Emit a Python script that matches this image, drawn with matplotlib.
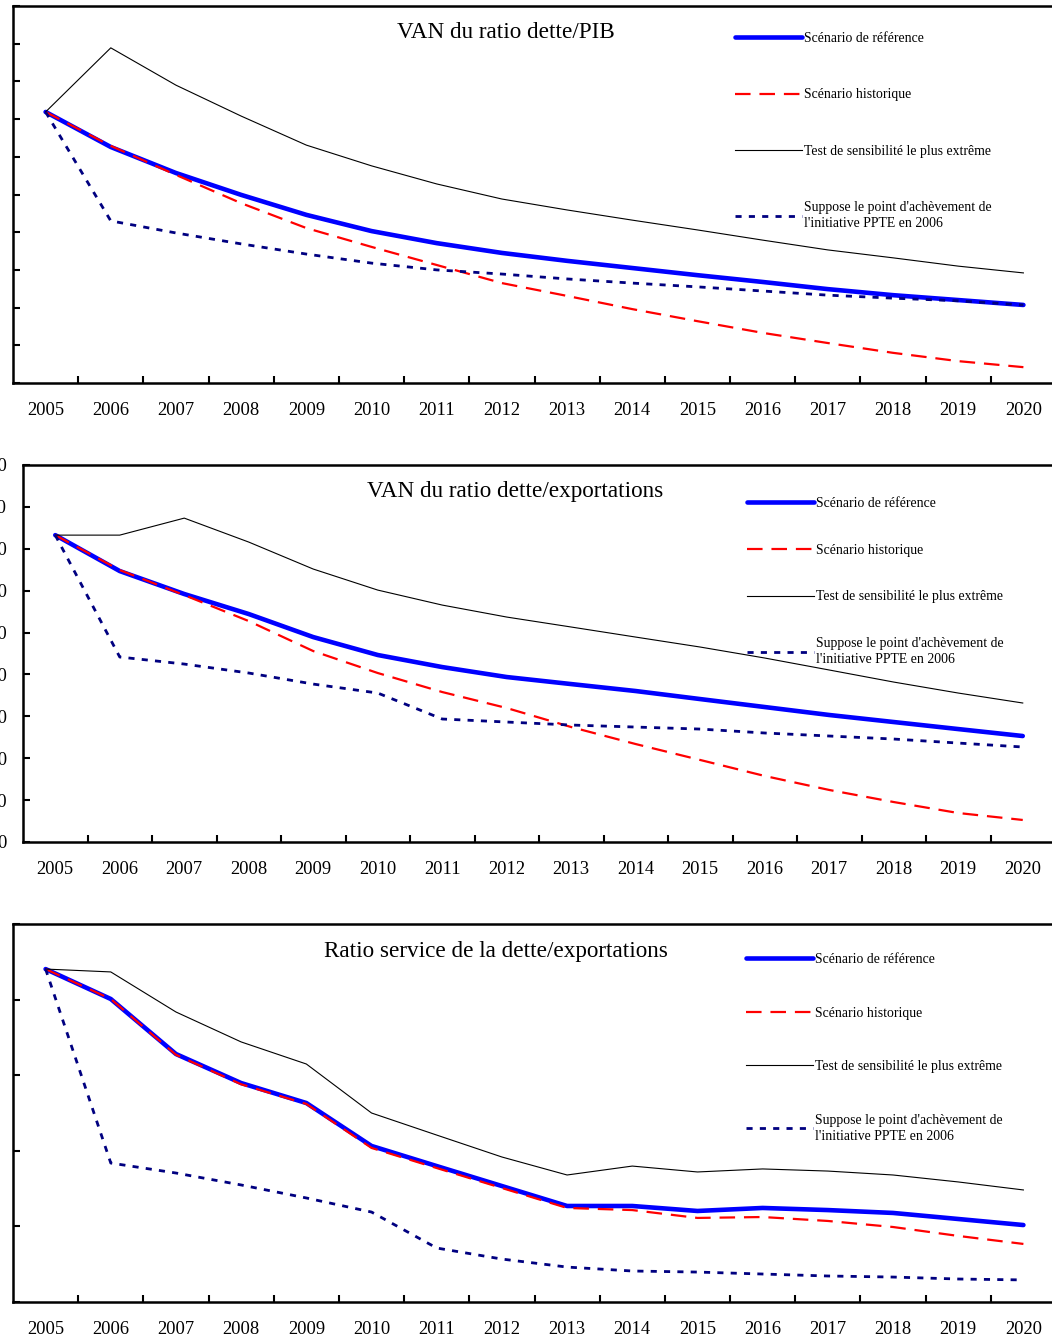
import numpy as np
import matplotlib
matplotlib.use('Agg')
import matplotlib.pyplot as plt

plt.rcParams['font.family'] = ['Liberation Serif', 'DejaVu Serif']

years = [str(y) for y in range(2005, 2021)]

LABELS = ['Scénario de référence',
          'Scénario historique',
          'Test de sensibilité le plus extrême',
          "Suppose le point d'achèvement de\nl'initiative PPTE en 2006"]

# VAN du ratio dette/PIB
pib_base = [71.9, 62.6, 55.7, 49.9, 44.6, 40.3, 37.1, 34.5, 32.4, 30.5, 28.6, 26.8, 24.9, 23.3, 22.0, 20.7]
pib_hist = [71.9, 62.9, 55.2, 47.7, 41.1, 36.1, 31.3, 26.5, 23.1, 19.6, 16.4, 13.3, 10.6, 8.0, 5.8, 4.2]
pib_test = [71.9, 88.9, 79.0, 70.8, 63.1, 57.6, 52.8, 48.8, 45.9, 43.2, 40.6, 37.9, 35.3, 33.2, 31.0, 29.2]
pib_ppte = [71.9, 43.0, 39.8, 36.9, 34.2, 31.8, 30.0, 28.9, 27.6, 26.5, 25.5, 24.4, 23.3, 22.5, 21.8, 20.7]

# VAN du ratio dette/exportations
exp_base = [366.3, 323.4, 296.0, 272.1, 244.6, 223.2, 208.8, 196.9, 188.5, 180.2, 170.6, 161.1, 151.6, 143.2, 134.8, 126.5]
exp_hist = [366.3, 324.6, 294.7, 263.7, 227.9, 201.7, 179.0, 159.9, 137.2, 116.9, 97.9, 78.8, 62.1, 47.7, 34.6, 26.3]
exp_test = [366.3, 366.3, 386.6, 358.0, 325.8, 300.7, 282.8, 268.5, 256.6, 244.6, 232.7, 219.6, 205.3, 190.9, 177.8, 165.9]
exp_ppte = [366.3, 220.8, 212.4, 201.7, 188.5, 177.8, 146.8, 143.2, 139.6, 137.2, 134.8, 130.1, 126.5, 122.9, 118.1, 113.4]

# Ratio service de la dette/exportations
srv_base = [22.02, 20.04, 16.40, 14.48, 13.16, 10.32, 8.99, 7.67, 6.35, 6.35, 6.02, 6.22, 6.08, 5.89, 5.49, 5.09]
srv_hist = [22.02, 20.04, 16.35, 14.40, 13.10, 10.19, 8.86, 7.54, 6.22, 6.08, 5.56, 5.62, 5.36, 4.96, 4.37, 3.84]
srv_test = [22.02, 21.83, 19.18, 17.20, 15.74, 12.50, 11.04, 9.59, 8.40, 8.99, 8.60, 8.80, 8.66, 8.40, 7.94, 7.41]
srv_ppte = [22.02, 9.19, 8.53, 7.74, 6.88, 5.95, 3.57, 2.84, 2.31, 2.05, 1.98, 1.85, 1.72, 1.65, 1.52, 1.46]

W, H = 1052, 1341
fig = plt.figure(figsize=(W / 100, H / 100), dpi=100)

def px(x0, y0, x1, y1):
  # pixel box (left, top, right, bottom) -> figure fraction rect
  return [x0 / W, 1 - y1 / H, (x1 - x0) / W, (y1 - y0) / H]

def panel(rect, series, ymax, ystep, title, title_xy, leg_xy, spacing, ylabels=False):
  ax = fig.add_axes(rect)
  x = np.arange(len(years))
  base, hist, test, ppte = series
  ax.plot(x, base, color='#0000FF', lw=3.3, solid_capstyle='round', label=LABELS[0])
  ax.plot(x, hist, color='#FF0000', lw=1.6, dashes=(7, 4), label=LABELS[1])
  ax.plot(x, test, color='black', lw=0.8, label=LABELS[2])
  ax.plot(x, ppte, color='#000080', lw=2.0, dashes=(2.2, 2.6), label=LABELS[3])

  ax.set_xlim(-0.5, len(years) - 0.5)
  ax.set_ylim(0, ymax)
  ax.set_xticks(x)
  ax.set_xticklabels(years)
  ax.set_xticks(np.arange(0.5, len(years) - 1, 1.0), minor=True)
  ax.set_yticks(np.arange(0, ymax + ystep / 2, ystep))
  ax.set_yticklabels([str(int(v)) for v in np.arange(0, ymax + ystep / 2, ystep)])
  ax.tick_params(axis='x', which='major', length=0, pad=14, labelsize=13.3)
  ax.tick_params(axis='x', which='minor', direction='in', length=5, width=1.5)
  # y labels sit mostly past the left edge of the page, as in the source
  ax.tick_params(axis='y', direction='in', length=5, width=1.5, pad=11.5,
                 labelsize=13.3, labelleft=ylabels)
  for s in ['left', 'top', 'bottom']:
    ax.spines[s].set_linewidth(1.8)
  ax.spines['right'].set_visible(False)

  fig.text(title_xy[0] / W, 1 - title_xy[1] / H, title, fontsize=16.7,
           ha='center', va='center')
  leg = ax.legend(loc='upper left', bbox_to_anchor=(leg_xy[0] / W, 1 - leg_xy[1] / H),
                  bbox_transform=fig.transFigure, frameon=False, fontsize=9.9,
                  handlelength=4.9, handletextpad=0.15, borderpad=0, borderaxespad=0,
                  labelspacing=spacing)
  leg.get_texts()[3].set_linespacing(1.3)
  return ax

panel(px(13, 6, 1056, 383), (pib_base, pib_hist, pib_test, pib_ppte), 100, 10,
      'VAN du ratio dette/PIB', (506, 33), (735, 32), 3.15)
panel(px(23, 465, 1055, 842), (exp_base, exp_hist, exp_test, exp_ppte), 450, 50,
      'VAN du ratio dette/exportations', (515, 491), (747, 497), 2.45, ylabels=True)
panel(px(13, 924, 1056, 1302), (srv_base, srv_hist, srv_test, srv_ppte), 25, 5,
      'Ratio service de la dette/exportations', (496, 952), (746, 953), 2.95)

fig.savefig('out.png', dpi=100)
